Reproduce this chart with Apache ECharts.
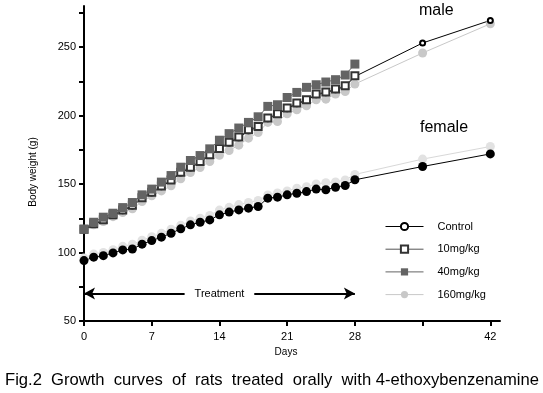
<!DOCTYPE html>
<html><head><meta charset="utf-8">
<script src="https://cdn.jsdelivr.net/npm/echarts@6/dist/echarts.min.js"></script>
<style>html,body{margin:0;padding:0;background:#fff}#c{width:543px;height:393px}</style>
</head><body><div id="c"></div>
<script>
const days = [0,1,2,3,4,5,6,7,8,9,10,11,12,13,14,15,16,17,18,19,20,21,22,23,24,25,26,27,28,35,42];
const xTicks = [0,7,14,21,28,35,42];
const xLabels = [0,7,14,21,28,42];
const yTicks = [50,75,100,125,150,175,200,225,250,275];
const yLabels = [50,100,150,200,250];

// male
const maleControl = [116.5,120.5,123.5,127,130.5,134,139.5,143.5,148,152.5,158,161.8,166,170.8,175.5,180,183.8,189,191.5,197.6,200.8,205,208.6,211,215.2,216.7,218.9,221.3,228.5,253,269.5];
const male10 = [117,121,124,127.5,131,134.5,140,144,148.5,153,158.7,162.3,166.5,171.3,176,180.6,184.3,189.6,192,198.2,201.3,205.5,209.1,211.5,215.7,217.2,219.4,221.8,229];
const male40 = [117,122.1,125.8,128.7,132.8,136.5,142.1,146.3,151.4,156.2,162.3,167.2,170.8,175.7,182,186.8,190.9,195,199.1,206.7,207.9,213.2,216.9,220.6,222.5,224.5,226.2,229.6,237.6];
const male160 = [117,120.2,122.6,126.2,129.2,131.9,137.2,141.4,145,148.7,153.8,158.4,162.1,166.5,171,174.5,178.4,183.5,187.6,195,195.7,201.3,204.2,207.2,211.5,212,215.7,217.6,223,245.7,267];
// female
const femaleControl = [94.1,96.6,97.7,99.7,101.9,102.6,106.1,108.7,111.2,114.1,117.3,120.2,122.1,123.8,127.5,129.5,131.1,132.4,133.6,139.7,140.4,142.1,143.3,144.5,146.3,145.8,147.7,148.9,153.1,162.8,172];
const female160 = [96,99,100,102,104.5,106,109,111.5,114,117,120,123,125,127,131,133,135,136.5,138,142,143.5,145,147,148,150,151,151.5,153,157,168.2,177.4];

const seriesNames = ['Control','10mg/kg','40mg/kg','160mg/kg'];
const annotations = {male:'male', female:'female', treatment:'Treatment', caption:'Fig.2  Growth  curves  of  rats  treated  orally  with 4-ethoxybenzenamine'};

const pairs = arr => arr.map((v,i)=>[days[i], v]);

const chart = echarts.init(document.getElementById('c'));
const FONT = 'Liberation Sans, Arial, sans-serif';
chart.setOption({
  animation:false,
  backgroundColor:'#fff',
  grid:{left:84,right:43,top:6,bottom:72},
  legend:{
    data:seriesNames, orient:'vertical', left:385, top:221, padding:0,
    itemWidth:38, itemHeight:9, itemGap:11.7,
    lineStyle:{width:1},
    textStyle:{fontFamily:FONT,fontSize:11,color:'#000',padding:[0,0,0,9]},
    selectedMode:false
  },
  xAxis:{
    type:'value', min:0, max:43,
    name:'Days', nameLocation:'middle', nameGap:26,
    nameTextStyle:{fontFamily:FONT,fontSize:10,color:'#000',padding:[0,12,0,0]},
    axisLine:{lineStyle:{color:'#000',width:2}},
    axisTick:{customValues:xTicks,length:5,lineStyle:{width:2,color:'#000'}},
    axisLabel:{customValues:xLabels,fontFamily:FONT,fontSize:11,color:'#000',margin:10},
    splitLine:{show:false}
  },
  yAxis:{
    type:'value', min:50, max:280,
    name:'Body weight (g)', nameLocation:'middle', nameGap:46, nameRotate:90,
    nameTextStyle:{fontFamily:FONT,fontSize:10,color:'#000',padding:[0,17,0,0]},
    axisLine:{lineStyle:{color:'#000',width:2}},
    axisTick:{customValues:yTicks,length:5,lineStyle:{width:2,color:'#000'}},
    axisLabel:{customValues:yLabels,fontFamily:FONT,fontSize:11,color:'#000',margin:8},
    splitLine:{show:false}
  },
  series:[
    {name:'160mg/kg',type:'line',data:pairs(male160),symbol:'circle',symbolSize:9,
     itemStyle:{color:'#c8c8c8'},lineStyle:{color:'#c8c8c8',width:1}},
    {name:'Control',type:'line',data:pairs(maleControl),symbol:'emptyCircle',symbolSize:5,
     itemStyle:{color:'#000',borderWidth:1},lineStyle:{color:'#000',width:1}},
    {name:'10mg/kg',type:'line',data:pairs(male10),symbol:'emptyRect',symbolSize:7,
     itemStyle:{color:'#333',borderWidth:1.5},lineStyle:{color:'#555',width:1}},
    {name:'40mg/kg',type:'line',data:pairs(male40),symbol:'rect',symbolSize:9,
     itemStyle:{color:'#646464'},lineStyle:{color:'#646464',width:1}},
    {name:'160mg/kg F',type:'line',data:pairs(female160),symbol:'circle',symbolSize:9,
     itemStyle:{color:'#e2e2e2'},lineStyle:{color:'#d8d8d8',width:1}},
    {name:'Control F',type:'line',data:pairs(femaleControl),symbol:'circle',symbolSize:9,
     itemStyle:{color:'#000'},lineStyle:{color:'#000',width:1},
     markLine:{silent:true,symbolSize:[9,11],label:{show:false},
       lineStyle:{color:'#000',width:2,type:'solid'},
       data:[
         [{coord:[0,70],symbol:'arrow'},{coord:[10.4,70],symbol:'none'}],
         [{coord:[17.6,70],symbol:'none'},{coord:[28,70],symbol:'arrow'}]
       ]},
     markPoint:{silent:true,symbol:'circle',symbolSize:0,
       label:{show:true,position:'inside',color:'#000',fontFamily:FONT,fontSize:11,formatter:annotations.treatment},
       data:[{coord:[14,70]}]}
    }
  ],
  graphic:[
    {type:'text',left:419,top:3,style:{text:annotations.male,font:'16px '+FONT,fill:'#000'}},
    {type:'text',left:420,top:120,style:{text:annotations.female,font:'16px '+FONT,fill:'#000'}},
    {type:'text',left:5,top:372,style:{text:annotations.caption,font:'16.6px '+FONT,fill:'#000'}}
  ]
});
</script></body></html>
